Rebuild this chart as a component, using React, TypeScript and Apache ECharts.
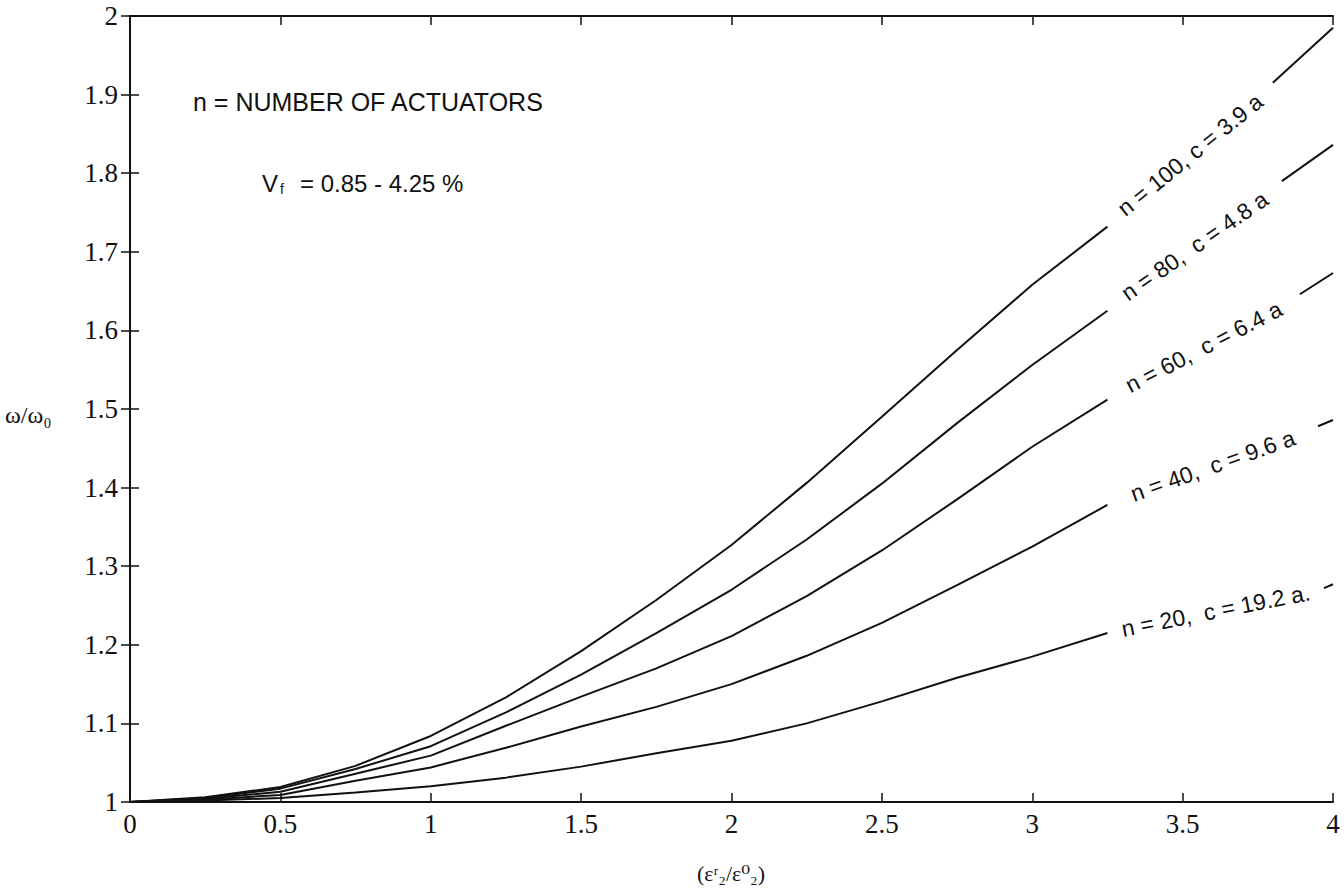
import React, { useEffect, useRef } from "react";
import * as echarts from "echarts";

// x positions of the plotted points (left part of every curve, before its label)
const xLeft = [0, 0.25, 0.5, 0.75, 1, 1.25, 1.5, 1.75, 2, 2.25, 2.5, 2.75, 3, 3.25];

// omega / omega0 values for each number of actuators
const n100 = [1, 1.006, 1.019, 1.046, 1.084, 1.133, 1.192, 1.257, 1.327, 1.406, 1.49, 1.575, 1.658, 1.732];
const n80 = [1, 1.005, 1.017, 1.042, 1.071, 1.114, 1.162, 1.215, 1.27, 1.334, 1.405, 1.482, 1.556, 1.625];
const n60 = [1, 1.004, 1.013, 1.036, 1.059, 1.097, 1.134, 1.17, 1.211, 1.262, 1.32, 1.385, 1.452, 1.512];
const n40 = [1, 1.003, 1.009, 1.027, 1.044, 1.069, 1.096, 1.121, 1.15, 1.186, 1.228, 1.276, 1.325, 1.378];
const n20 = [1, 1.002, 1.005, 1.012, 1.02, 1.031, 1.045, 1.062, 1.078, 1.1, 1.128, 1.158, 1.185, 1.215];

// short right-hand pieces of each curve (after the label)
const rightX = [[3.8, 4], [3.83, 4], [3.89, 4], [3.95, 4], [3.97, 4]];
const rightY = [[1.915, 1.985], [1.79, 1.836], [1.646, 1.673], [1.478, 1.486], [1.272, 1.277]];

const curveLabels = [
  "n = 100, c = 3.9 a",
  "n = 80,  c = 4.8 a",
  "n = 60,  c = 6.4 a",
  "n = 40,  c = 9.6 a",
  "n = 20,  c = 19.2 a.",
];

const xTicks = { min: 0, max: 4, interval: 0.5 };
const yTicks = { min: 1, max: 2, interval: 0.1 };

const INK = "#111";
const SANS = "'Liberation Sans', Arial, Helvetica, sans-serif";
const SERIF = "'Liberation Serif', 'Times New Roman', 'DejaVu Serif', serif";

export default function App() {
  const ref = useRef<HTMLDivElement>(null);

  useEffect(() => {
    document.body.style.margin = "0";
    const chart = echarts.init(ref.current!, null, { renderer: "svg" });
    const curves = [n100, n80, n60, n40, n20];

    const series: any[] = [];
    curves.forEach((ys, i) => {
      series.push({
        type: "line",
        data: xLeft.map((x, k) => [x, ys[k]]),
        showSymbol: false,
        smooth: false,
        lineStyle: { color: INK, width: 2 },
        silent: true,
      });
      series.push({
        type: "line",
        data: rightX[i].map((x, k) => [x, rightY[i][k]]),
        showSymbol: false,
        lineStyle: { color: INK, width: 2 },
        silent: true,
      });
    });

    const axisLine = { show: true, lineStyle: { color: INK, width: 2 } };
    const axisTick = { show: true, inside: true, length: 9, lineStyle: { color: INK, width: 1.5 } };
    const fmt = (v: number) => String(Math.round(v * 10) / 10);

    chart.setOption({
      animation: false,
      backgroundColor: "#fff",
      grid: { left: 130, right: 11, top: 16, bottom: 89, containLabel: false },
      xAxis: [
        {
          type: "value",
          ...xTicks,
          position: "bottom",
          axisLine,
          axisTick,
          splitLine: { show: false },
          axisLabel: { fontFamily: SERIF, fontSize: 27, color: INK, margin: 8, formatter: fmt },
        },
        {
          type: "value",
          ...xTicks,
          position: "top",
          axisLine,
          axisTick,
          splitLine: { show: false },
          axisLabel: { show: false },
        },
      ],
      yAxis: [
        {
          type: "value",
          ...yTicks,
          position: "left",
          axisLine,
          axisTick,
          splitLine: { show: false },
          axisLabel: { fontFamily: SERIF, fontSize: 27, color: INK, margin: 12, formatter: fmt },
        },
        {
          type: "value",
          ...yTicks,
          position: "right",
          axisLine,
          axisTick,
          splitLine: { show: false },
          axisLabel: { show: false },
        },
      ],
      series,
    });

    // curve labels placed in the gap of each curve, rotated along it
    const labelEls: any[] = curves.map((ys, i) => {
      const p1 = chart.convertToPixel({ gridIndex: 0 }, [xLeft[xLeft.length - 1], ys[ys.length - 1]]) as number[];
      const p2 = chart.convertToPixel({ gridIndex: 0 }, [rightX[i][0], rightY[i][0]]) as number[];
      const ang = Math.atan2(p1[1] - p2[1], p2[0] - p1[0]);
      return {
        type: "text",
        x: (p1[0] + p2[0]) / 2,
        y: (p1[1] + p2[1]) / 2,
        rotation: ang * 0.95,
        silent: true,
        style: {
          text: curveLabels[i],
          fontFamily: SANS,
          fontSize: 23,
          fill: INK,
          align: "center",
          verticalAlign: "middle",
        },
      };
    });

    chart.setOption({
      graphic: [
        ...labelEls,
        {
          type: "text",
          left: 193,
          top: 89,
          silent: true,
          style: { text: "n = NUMBER OF ACTUATORS", fontFamily: SANS, fontSize: 25, fill: INK },
        },
        {
          type: "text",
          left: 262,
          top: 171,
          silent: true,
          style: { text: "V", fontFamily: SANS, fontSize: 24, fill: INK },
        },
        {
          type: "text",
          left: 280,
          top: 182,
          silent: true,
          style: { text: "f", fontFamily: SANS, fontSize: 14, fill: INK },
        },
        {
          type: "text",
          left: 300,
          top: 171,
          silent: true,
          style: { text: "= 0.85 - 4.25 %", fontFamily: SANS, fontSize: 24, fill: INK },
        },
        {
          type: "text",
          left: 5,
          top: 403,
          silent: true,
          style: { text: "ω/ω₀", fontFamily: SERIF, fontSize: 24, fill: INK },
        },
        {
          type: "text",
          x: 731,
          y: 873,
          silent: true,
          style: {
            text: "(εʳ₂/ε⁰₂)",
            fontFamily: SERIF,
            fontSize: 22,
            fill: INK,
            align: "center",
            verticalAlign: "middle",
          },
        },
      ],
    });

    return () => chart.dispose();
  }, []);

  return <div ref={ref} style={{ width: 1344, height: 891 }} />;
}
